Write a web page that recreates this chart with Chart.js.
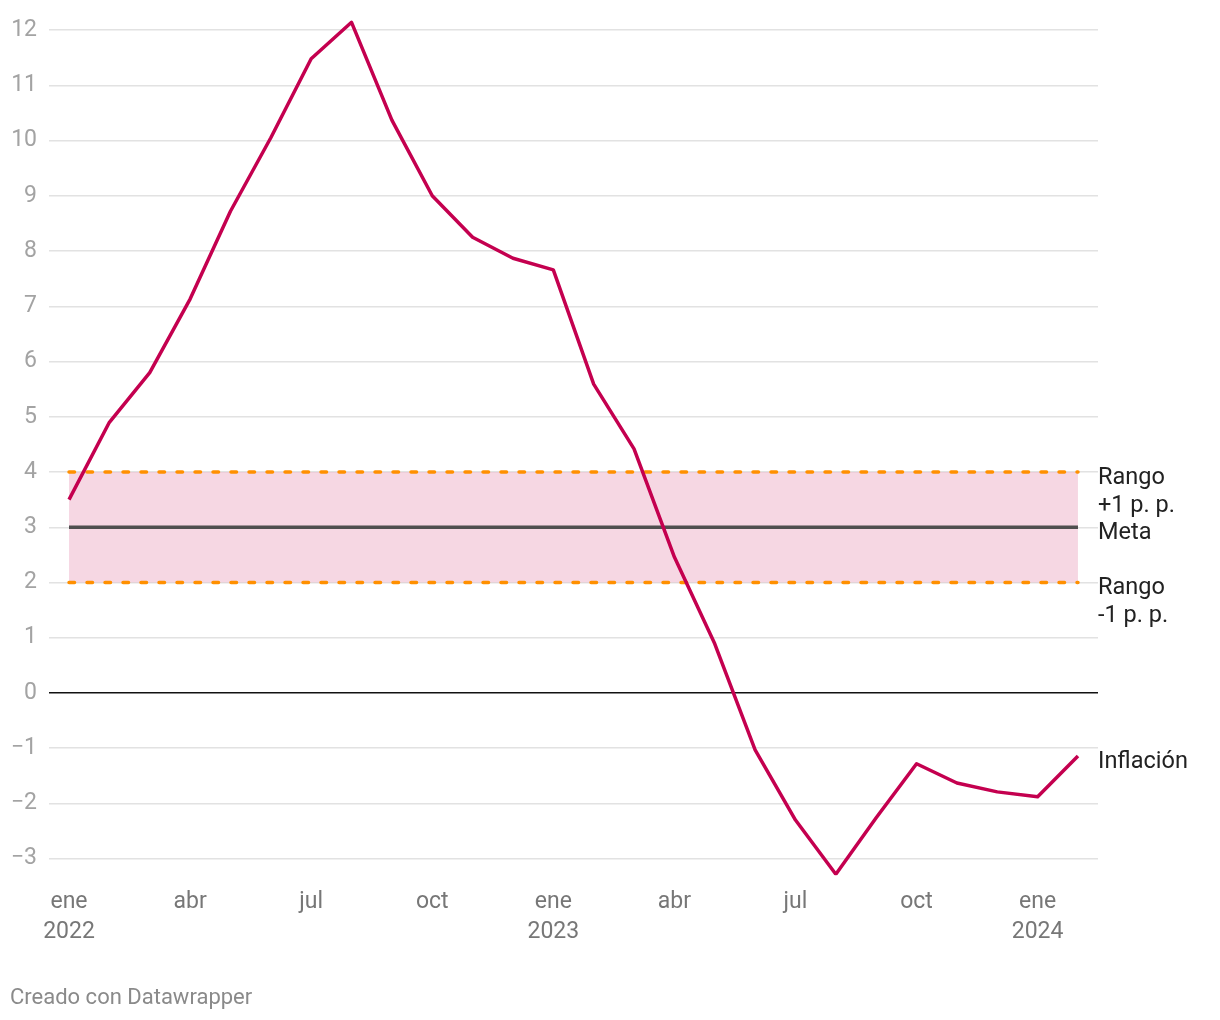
<!DOCTYPE html>
<html>
<head>
<meta charset="utf-8">
<script src="https://cdn.jsdelivr.net/npm/chart.js@4.4.1/dist/chart.umd.min.js"></script>
<style>
  html, body { margin: 0; padding: 0; background: #fff; }
  #wrap { width: 1220px; height: 1020px; position: relative; }
</style>
</head>
<body>
<div id="wrap"><canvas id="c" width="1220" height="1020"></canvas></div>
<script>
const monthNames = ['ene','feb','mar','abr','may','jun','jul','ago','sep','oct','nov','dic'];
const startYear = 2022;
const inflation = [3.5, 4.9, 5.8, 7.13, 8.72, 10.05, 11.48, 12.14, 10.37, 9.0, 8.25, 7.87,
                   7.66, 5.59, 4.42, 2.46, 0.89, -1.03, -2.30, -3.28, -2.26, -1.28, -1.63, -1.79,
                   -1.88, -1.14];
const metaValue = 3;
const rangeUpper = 4;
const rangeLower = 2;
const yTicks = [-3,-2,-1,0,1,2,3,4,5,6,7,8,9,10,11,12];
const xTickMonths = [0,3,6,9,12,15,18,21,24];
const rightLabels = [
  { value: rangeUpper, lines: ['Rango', '+1 p. p.'] },
  { value: metaValue, lines: ['Meta'] },
  { value: rangeLower, lines: ['Rango', '-1 p. p.'] },
  { value: inflation[inflation.length - 1], lines: ['Inflación'] }
];

const n = inflation.length;
const inflPts = inflation.map((v, i) => ({ x: i, y: v }));
const flat = v => [{ x: 0, y: v }, { x: n - 1, y: v }];

const FONT = 'Roboto, "Noto Sans", sans-serif';

const labelsPlugin = {
  id: 'labelsPlugin',
  afterDraw(chart) {
    const ctx = chart.ctx;
    const y = chart.scales.y;
    ctx.save();
    ctx.font = '23.5px ' + FONT;
    ctx.fillStyle = '#222';
    ctx.textAlign = 'left';
    ctx.textBaseline = 'middle';
    rightLabels.forEach(l => {
      const py = y.getPixelForValue(l.value) + 6;
      l.lines.forEach((t, k) => ctx.fillText(t, chart.chartArea.right, py + k * 28));
    });
    ctx.font = '22px ' + FONT;
    ctx.fillStyle = '#8a8a8a';
    ctx.fillText('Creado con Datawrapper', 10, 998);
    ctx.restore();
  }
};

new Chart(document.getElementById('c'), {
  type: 'line',
  data: {
    datasets: [
      { data: flat(rangeUpper), borderColor: '#ff9000', borderWidth: 3.5, borderDash: [5.5, 12.5], borderCapStyle: 'round',
        pointRadius: 0, fill: '+1', backgroundColor: 'rgba(228,140,175,0.35)', order: 3 },
      { data: flat(rangeLower), borderColor: '#ff9000', borderWidth: 3.5, borderDash: [5.5, 12.5], borderCapStyle: 'round',
        pointRadius: 0, fill: false, order: 2.5 },
      { data: flat(metaValue), borderColor: '#4f4f4f', borderWidth: 3.5, pointRadius: 0, fill: false, order: 2 },
      { data: inflPts, borderColor: '#c4004f', borderWidth: 3.5, pointRadius: 0, fill: false,
        borderJoinStyle: 'round', tension: 0, order: 1 }
    ]
  },
  options: {
    responsive: false,
    animation: false,
    layout: { padding: { top: 19, right: 122, left: 0, bottom: 0 } },
    plugins: {
      legend: { display: false },
      tooltip: { enabled: false },
      filler: { drawTime: 'beforeDatasetsDraw' }
    },
    scales: {
      x: {
        type: 'linear',
        min: -0.496,
        max: n - 1 + 0.496,
        grid: { display: false, drawTicks: false },
        border: { display: false },
        afterBuildTicks: s => { s.ticks = xTickMonths.map(v => ({ value: v })); },
        afterFit: s => { s.height = 144.7; s.paddingLeft = 0; s.paddingRight = 0; },
        ticks: {
          autoSkip: false,
          maxRotation: 0,
          padding: 12,
          color: '#777',
          font: { family: FONT, size: 23, lineHeight: 1.3 },
          callback: v => {
            const m = v % 12;
            return m === 0 ? [monthNames[m], String(startYear + v / 12)] : monthNames[m];
          }
        }
      },
      y: {
        min: -3.3,
        max: 12.2,
        grid: {
          drawTicks: false,
          color: c => (c.tick && c.tick.value === 0) ? '#111' : '#e2e2e2',
          lineWidth: 1.5
        },
        border: { display: false },
        afterBuildTicks: s => { s.ticks = yTicks.map(v => ({ value: v })); },
        afterFit: s => { s.width = 49; s.paddingTop = 0; s.paddingBottom = 0; },
        ticks: {
          padding: 12,
          color: '#a3a3a3',
          font: { family: FONT, size: 23 },
          callback: v => v < 0 ? '\u2212' + Math.abs(v) : String(v)
        }
      }
    }
  },
  plugins: [labelsPlugin]
});
</script>
</body>
</html>
